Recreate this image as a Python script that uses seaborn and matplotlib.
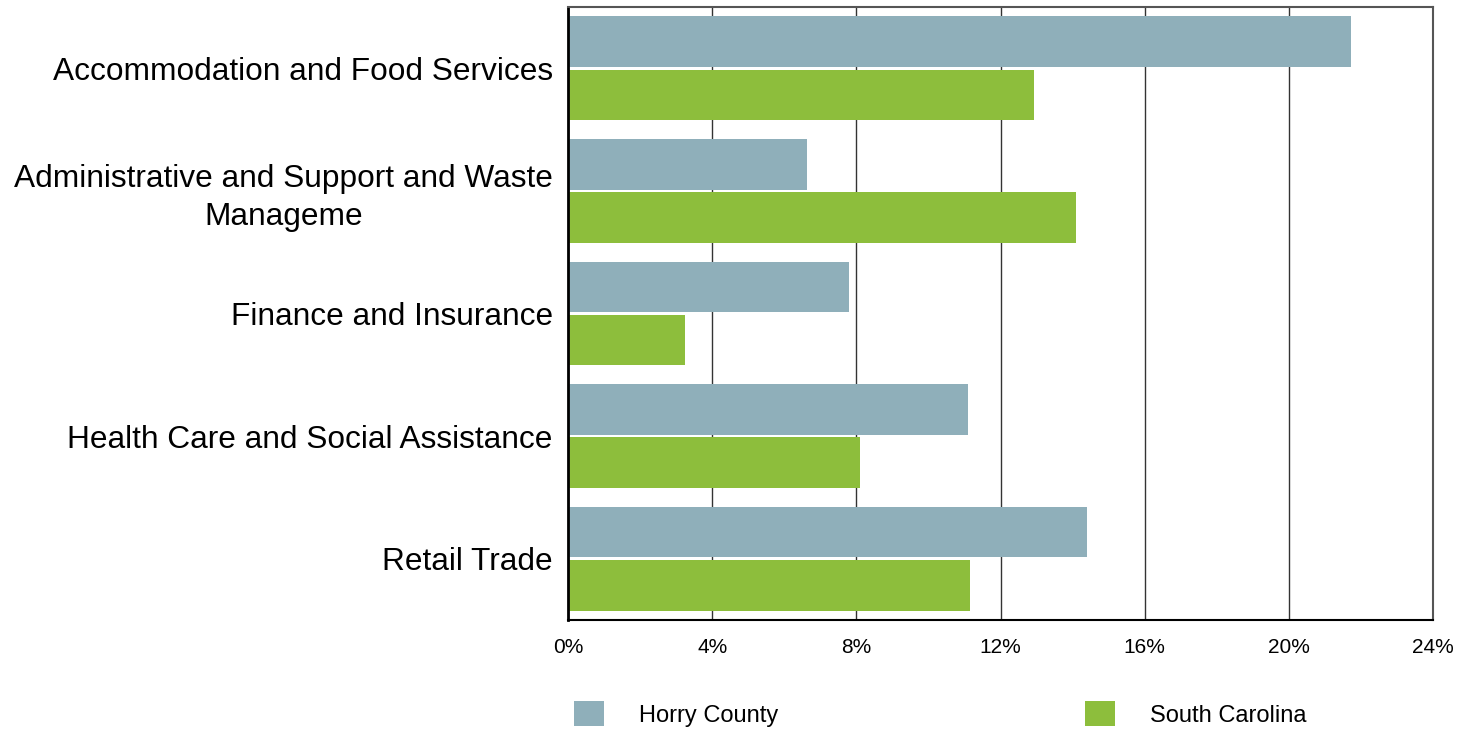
import pandas as pd
import matplotlib.pyplot as plt
import seaborn as sns
from matplotlib.patches import Patch
from matplotlib.ticker import FuncFormatter

# values (share of employment, %)
industries = [
    'Accommodation and Food Services',
    'Administrative and Support and Waste\nManageme',
    'Finance and Insurance',
    'Health Care and Social Assistance',
    'Retail Trade',
]
horry = [21.73, 6.63, 7.8, 11.1, 14.4]
south_carolina = [12.93, 14.1, 3.25, 8.1, 11.15]
regions = ['Horry County', 'South Carolina']
colors = ['#8FAFBA', '#8DBE3C']
x_ticks = [0, 4, 8, 12, 16, 20, 24]

df = pd.DataFrame({
    'industry': industries * 2,
    'share': horry + south_carolina,
    'region': [regions[0]] * len(industries) + [regions[1]] * len(industries),
})

sns.set_style('white')
plt.rcParams['font.family'] = ['Liberation Sans', 'DejaVu Sans']
plt.rcParams['text.color'] = 'black'

fig = plt.figure(figsize=(14.71, 7.29), dpi=100)
ax = fig.add_axes([568 / 1471, 1 - 620 / 729, (1433 - 568) / 1471, (620 - 7) / 729])

sns.barplot(data=df, x='share', y='industry', hue='region', palette=colors,
            width=0.87, gap=0.05, saturation=1, linewidth=0, legend=False, ax=ax)

ax.set_xlim(0, 24)
ax.set_xticks(x_ticks)
ax.xaxis.set_major_formatter(FuncFormatter(lambda v, p: f'{v:.0f}%'))
ax.grid(axis='x', color='#333333', linewidth=1)
ax.set_axisbelow(True)
ax.set_xlabel('')
ax.set_ylabel('')

for lbl in ax.get_yticklabels():
    lbl.set_multialignment('center')
    lbl.set_linespacing(1.35)
ax.tick_params(axis='y', length=0, pad=11, labelsize=22.8, labelcolor='black')
ax.tick_params(axis='x', length=0, pad=13, labelsize=15, labelcolor='black')

for side in ['top', 'right']:
    ax.spines[side].set_color('#555555')
    ax.spines[side].set_linewidth(1.5)
ax.spines['left'].set_color('black')
ax.spines['left'].set_linewidth(2)
ax.spines['bottom'].set_color('black')
ax.spines['bottom'].set_linewidth(1.5)

handles = [Patch(facecolor=c, edgecolor='none', label=r) for c, r in zip(colors, regions)]
leg = fig.legend(handles=handles, loc='center left', bbox_to_anchor=(574 / 1471, 1 - 714 / 729),
                 ncol=2, frameon=False, fontsize=17, handlelength=1.27, handleheight=1.27,
                 handletextpad=1.48, columnspacing=13.0, borderpad=0, borderaxespad=0)
for t in leg.get_texts():
    t.set_color('black')

fig.savefig('out.png', dpi=100)
